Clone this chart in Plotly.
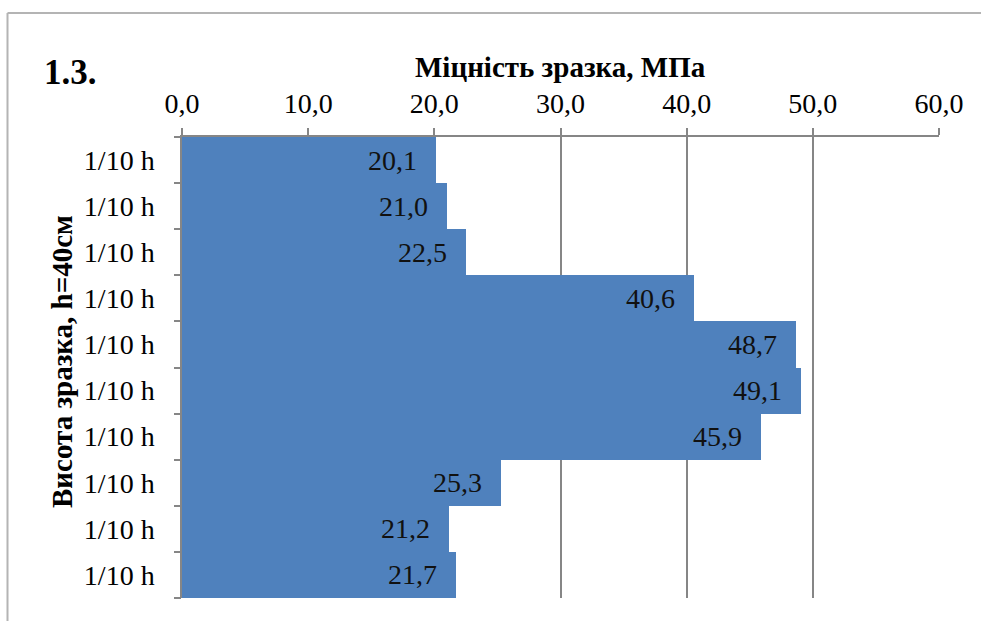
import plotly.graph_objects as go

# Strength of each 1/10-height slice of the specimen (MPa), top to bottom
slice_labels = ["1/10 h"] * 10
strength = [20.1, 21.0, 22.5, 40.6, 48.7, 49.1, 45.9, 25.3, 21.2, 21.7]
x_ticks = [0, 10, 20, 30, 40, 50, 60]

FONT = "Liberation Serif"
AXIS_GREY = "#868686"
BAR_BLUE = "#4F81BD"

pos = list(range(len(strength)))
bounds = [p - 0.5 for p in pos] + [pos[-1] + 0.5]

W, H = 981, 621
L, R, T, B = 182, 42, 137, 23
pw, ph = W - L - R, H - T - B


def px_x(px):
    return (px - L) / pw


def px_y(py):
    return (H - B - py) / ph


fig = go.Figure()
fig.add_trace(go.Bar(
    x=strength, y=pos, orientation="h", width=1.0,
    marker=dict(color=BAR_BLUE, line=dict(width=0)),
    hoverinfo="skip", showlegend=False,
))
# empty trace that carries the boundary tick axis
fig.add_trace(go.Scatter(x=[None], y=[None], yaxis="y2", showlegend=False, hoverinfo="skip"))

# value labels, placed inside the bar ends
for p, v in zip(pos, strength):
    fig.add_annotation(
        x=v, y=p, xref="x", yref="y", text=f"{v:.1f}".replace(".", ","),
        showarrow=False, xanchor="right", yanchor="middle", xshift=-17,
        font=dict(family=FONT, size=28, color="#111111"),
    )

fig.add_annotation(
    x=px_x(42), y=px_y(72), xref="paper", yref="paper", text="<b>1.3.</b>",
    showarrow=False, xanchor="left", yanchor="middle",
    font=dict(family=FONT, size=35, color="#000000"),
)
fig.add_annotation(
    x=px_x(560), y=px_y(67), xref="paper", yref="paper", text="<b>Міцність зразка, МПа</b>",
    showarrow=False, xanchor="center", yanchor="middle",
    font=dict(family=FONT, size=29, color="#000000"),
)
fig.add_annotation(
    x=px_x(62), y=px_y(362), xref="paper", yref="paper", text="<b>Висота зразка, h=40см</b>",
    showarrow=False, xanchor="center", yanchor="middle", textangle=-90,
    font=dict(family=FONT, size=29, color="#000000"),
)

# chart frame (top and left edges)
frame = dict(type="line", xref="paper", yref="paper", line=dict(color="#b4b4b4", width=2))
fig.add_shape(**frame, x0=px_x(7.5), x1=px_x(W + 5), y0=px_y(13), y1=px_y(13))
fig.add_shape(**frame, x0=px_x(7.5), x1=px_x(7.5), y0=px_y(13), y1=px_y(H + 5))

fig.update_layout(
    width=W, height=H,
    margin=dict(l=L, r=R, t=T, b=B),
    paper_bgcolor="white", plot_bgcolor="white",
    bargap=0, separators=", ",
    font=dict(family=FONT, size=28, color="#000000"),
    xaxis=dict(
        range=[0, 60], side="top", tickmode="array", tickvals=x_ticks,
        tickformat=".1f", ticks="outside", ticklen=7, tickwidth=1.5, tickcolor=AXIS_GREY,
        showline=True, linecolor=AXIS_GREY, linewidth=1.5,
        showgrid=True, gridcolor=AXIS_GREY, gridwidth=1.5, zeroline=False,
        ticklabelstandoff=4,
        tickfont=dict(family=FONT, size=28, color="#000000"),
    ),
    yaxis=dict(
        range=[bounds[-1], bounds[0]], tickmode="array", tickvals=pos, ticktext=slice_labels,
        ticks="", showline=True, linecolor=AXIS_GREY, linewidth=1.5,
        showgrid=False, zeroline=False, ticklabelstandoff=20,
        tickfont=dict(family=FONT, size=28, color="#000000"),
    ),
    yaxis2=dict(
        overlaying="y", side="left", range=[bounds[-1], bounds[0]],
        tickmode="array", tickvals=bounds, ticks="outside", ticklen=7, tickwidth=1.5,
        tickcolor=AXIS_GREY, showticklabels=False, showline=False, showgrid=False, zeroline=False,
    ),
)

fig.write_html("out.html")
